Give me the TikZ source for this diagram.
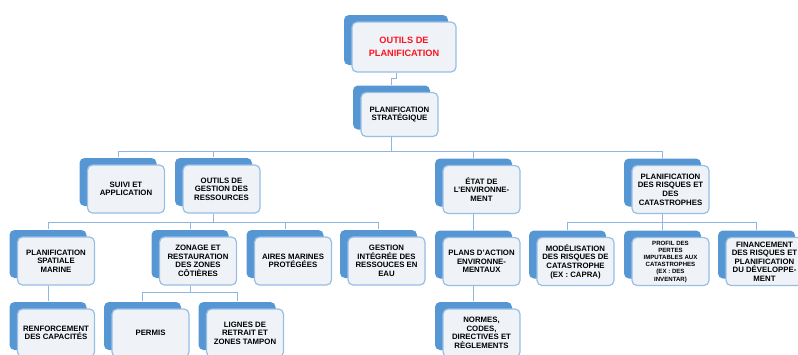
\documentclass[tikz,border=0pt]{standalone}
\usepackage{fontspec}
\setmainfont{Liberation Sans}
\usetikzlibrary{positioning}
\usetikzlibrary{shadows}
\definecolor{cardblue}{RGB}{86,150,211}
\definecolor{cardline}{RGB}{150,190,230}
\definecolor{cardfill}{RGB}{239,243,248}
\definecolor{linkblue}{RGB}{143,182,226}
\definecolor{titlered}{RGB}{250,20,30}
\tikzset{
    card/.style={draw=cardline, fill=cardfill, line width=1.2pt, rounded corners=5pt, minimum width=77pt, minimum height=48pt, inner sep=1pt, align=center, text=black, font=\bfseries\fontsize{7.8}{8.6}\selectfont, general shadow={fill=cardblue, shadow xshift=-8pt, shadow yshift=7pt}},
    link/.style={linkblue, line width=1pt},
}
\begin{document}
\begin{tikzpicture}[x=1pt, y=-1pt]
                            \useasboundingbox (0,0) rectangle (798,354);
                            \node[card, minimum width=104pt, minimum height=50pt, text=titlered, font=\bfseries\fontsize{9.2}{12.5}\selectfont] (outils) at (404,47) {OUTILS DE\\PLANIFICATION};
                            \node[card, minimum height=44pt] (strat) at (399.5,114.5) {PLANIFICATION\\STRATÉGIQUE};
                            \node[card] (suivi) at (126,189) {SUIVI ET\\APPLICATION};
                            \node[card] (gestion) at (221.5,189) {OUTILS DE\\GESTION DES\\RESSOURCES};
                            \node[card] (etat) at (481.5,189.5) {ÉTAT DE\\L'ENVIRONNE-\\MENT};
                            \node[card] (risques) at (670.5,189.5) {PLANIFICATION\\DES RISQUES ET\\DES\\CATASTROPHES};
                            \node[card] (spat) at (56,261) {PLANIFICATION\\SPATIALE\\MARINE};
                            \node[card] (zonage) at (198,261) {ZONAGE ET\\RESTAURATION\\DES ZONES\\CÔTIÈRES};
                            \node[card] (aires) at (293,261) {AIRES MARINES\\PROTÉGÉES};
                            \node[card] (eau) at (386.5,261) {GESTION\\INTÉGRÉE DES\\RESSOUCES EN\\EAU};
                            \node[card] (plans) at (481.5,261.5) {PLANS D'ACTION\\ENVIRONNE-\\MENTAUX};
                            \node[card] (model) at (575.5,261.5) {MODÉLISATION\\DES RISQUES DE\\CATASTROPHE\\(EX : CAPRA)};
                            \node[card, font=\bfseries\fontsize{6.1}{7.2}\selectfont] (profil) at (670.5,261.5) {PROFIL DES\\PERTES\\IMPUTABLES AUX\\CATASTROPHES\\(EX : DES\\INVENTAR)};
                            \node[card] (finance) at (764.5,261.5) {FINANCEMENT\\DES RISQUES ET\\PLANIFICATION\\DU DÉVELOPPE-\\MENT};
                            \node[card] (renf) at (56,333) {RENFORCEMENT\\DES CAPACITÉS};
                            \node[card] (permis) at (150.5,333) {PERMIS};
                            \node[card] (lignes) at (245,333) {LIGNES DE\\RETRAIT ET\\ZONES TAMPON};
                            \node[card] (normes) at (481.5,333) {NORMES,\\CODES,\\DIRECTIVES ET\\RÈGLEMENTS};
                            \draw[link] ([xshift=-8pt]outils.south) -- ++(0pt,-6pt) -| ([xshift=-8pt, yshift=7pt]strat.north);
                            \foreach \c in {suivi,gestion,etat,risques}
                                \draw[link] ([xshift=-8pt]strat.south) -- ++(0pt,-14pt) -| ([xshift=-8pt, yshift=7pt]\c.north);
                            \foreach \c in {spat,zonage,aires,eau}
                                \draw[link] ([xshift=-8pt]gestion.south) -- ++(0pt,-9pt) -| ([xshift=-8pt, yshift=7pt]\c.north);
                            \foreach \c in {model,profil,finance}
                                \draw[link] ([xshift=-8pt]risques.south) -- ++(0pt,-8pt) -| ([xshift=-8pt, yshift=7pt]\c.north);
                            \foreach \c in {permis,lignes}
                                \draw[link] ([xshift=-8pt]zonage.south) -- ++(0pt,-7pt) -| ([xshift=-8pt, yshift=7pt]\c.north);
                            \draw[link] ([xshift=-8pt]etat.south) -- ([xshift=-8pt, yshift=7pt]plans.north);
                            \draw[link] ([xshift=-8pt]plans.south) -- ([xshift=-8pt, yshift=7pt]normes.north);
                            \draw[link] ([xshift=-8pt]spat.south) -- ([xshift=-8pt, yshift=7pt]renf.north);
                        \end{tikzpicture}
\end{document}
